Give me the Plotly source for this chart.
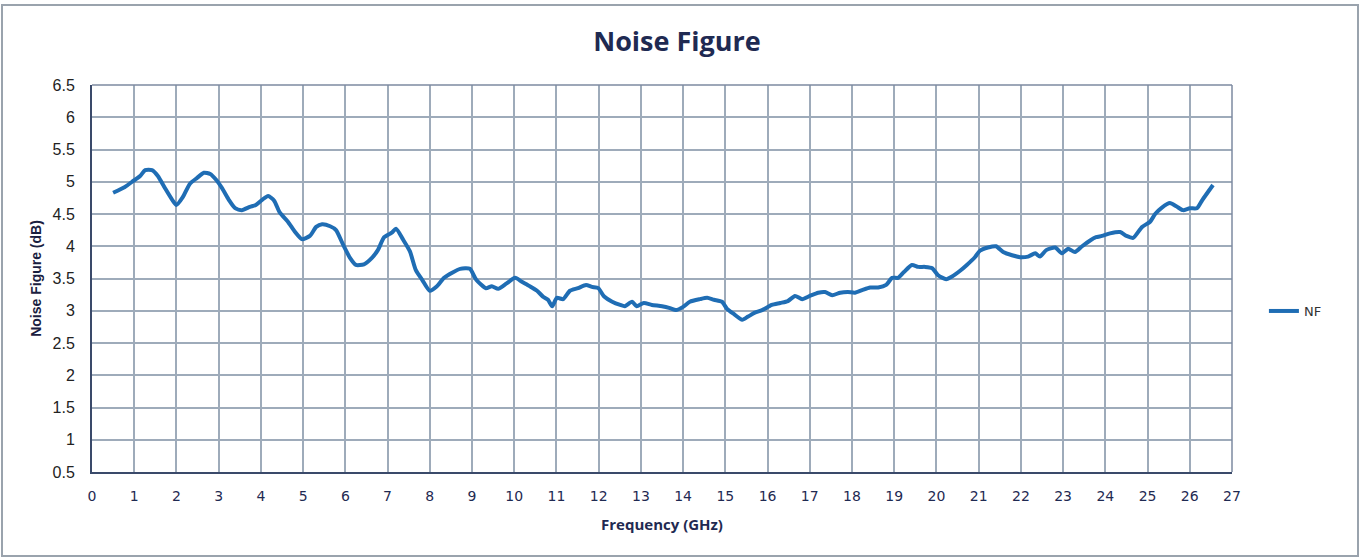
import plotly.graph_objects as go

freq_ghz = [0.5, 0.78, 0.95, 1.14, 1.26, 1.42, 1.56, 1.73, 1.9, 2.0, 2.15, 2.32, 2.49, 2.65, 2.8, 2.94,
            3.08, 3.24, 3.39, 3.55, 3.74, 3.88, 4.03, 4.17, 4.31, 4.45, 4.64, 4.81, 4.97, 5.16, 5.31,
            5.45, 5.64, 5.78, 5.95, 6.11, 6.25, 6.44, 6.63, 6.77, 6.92, 7.1, 7.2, 7.37, 7.53, 7.67,
            7.82, 8.0, 8.17, 8.34, 8.53, 8.72, 8.95, 9.1, 9.33, 9.47, 9.62, 9.81, 10.02, 10.18, 10.37,
            10.54, 10.68, 10.8, 10.9, 11.01, 11.16, 11.32, 11.51, 11.7, 11.84, 11.99, 12.13, 12.32,
            12.51, 12.62, 12.79, 12.9, 13.07, 13.26, 13.5, 13.69, 13.83, 14.0, 14.16, 14.4, 14.57,
            14.73, 14.92, 15.04, 15.2, 15.4, 15.54, 15.7, 15.87, 16.1, 16.3, 16.48, 16.65, 16.82,
            17.0, 17.2, 17.36, 17.53, 17.72, 17.9, 18.07, 18.24, 18.43, 18.62, 18.81, 18.95, 19.09,
            19.23, 19.42, 19.57, 19.73, 19.9, 20.04, 20.23, 20.37, 20.56, 20.72, 20.91, 21.03, 21.22,
            21.41, 21.58, 21.79, 21.98, 22.17, 22.34, 22.45, 22.6, 22.81, 22.97, 23.12, 23.28, 23.45,
            23.64, 23.78, 23.92, 24.11, 24.35, 24.5, 24.66, 24.87, 25.06, 25.18, 25.34, 25.53, 25.68,
            25.84, 26.0, 26.17, 26.3, 26.55]
nf_db = [4.83, 4.92, 5.0, 5.09, 5.18, 5.18, 5.09, 4.9, 4.72, 4.64, 4.76, 4.97, 5.06, 5.14, 5.12, 5.03,
         4.9, 4.72, 4.59, 4.56, 4.61, 4.64, 4.72, 4.78, 4.71, 4.52, 4.38, 4.22, 4.11, 4.16, 4.3,
         4.34, 4.31, 4.25, 4.02, 3.82, 3.71, 3.72, 3.82, 3.94, 4.14, 4.21, 4.27, 4.1, 3.92, 3.63,
         3.48, 3.31, 3.38, 3.51, 3.59, 3.65, 3.65, 3.48, 3.35, 3.38, 3.34, 3.42, 3.51, 3.45, 3.38,
         3.31, 3.22, 3.17, 3.07, 3.2, 3.18, 3.31, 3.35, 3.4, 3.37, 3.35, 3.22, 3.14,
         3.09, 3.07, 3.14, 3.07, 3.12, 3.09, 3.07, 3.04, 3.01, 3.06, 3.14, 3.18, 3.2,
         3.17, 3.14, 3.03, 2.95, 2.86, 2.91, 2.97, 3.01, 3.09, 3.12, 3.15, 3.23, 3.18,
         3.23, 3.28, 3.29, 3.24, 3.28, 3.29, 3.28, 3.32, 3.36, 3.36, 3.4, 3.51, 3.51,
         3.6, 3.71, 3.68, 3.68, 3.66, 3.55, 3.49, 3.53, 3.62, 3.71, 3.83, 3.93, 3.98,
         4.0, 3.91, 3.86, 3.83, 3.84, 3.89, 3.84, 3.94, 3.98, 3.89, 3.96, 3.91, 4.0,
         4.09, 4.14, 4.16, 4.2, 4.22, 4.16, 4.13, 4.3, 4.38, 4.5, 4.6, 4.67, 4.62,
         4.56, 4.59, 4.59, 4.72, 4.95]

x_ticks = list(range(0, 28))
y_ticks = [0.5, 1, 1.5, 2, 2.5, 3, 3.5, 4, 4.5, 5, 5.5, 6, 6.5]

navy = "#1f2a52"
grid = "#9eabba"

W, H = 1361, 559
L, R, T, B = 92, 129, 85, 87
PW, PH = W - L - R, H - T - B

fig = go.Figure()
fig.add_trace(go.Scatter(x=freq_ghz, y=nf_db, mode="lines", name="NF",
                         line=dict(color="#1f6db4", width=4, shape="spline", smoothing=0.6)))

fig.update_layout(
    width=W, height=H,
    paper_bgcolor="white", plot_bgcolor="white",
    margin=dict(l=L, r=R, t=T, b=B),
    title=dict(text="<b>Noise Figure</b>", x=677 / W, xanchor="center",
               y=1 - 42 / H, yanchor="middle",
               font=dict(family="Open Sans", size=27, color=navy)),
    font=dict(family="DejaVu Sans", color=navy),
    showlegend=True,
    legend=dict(x=1.028, y=0.416, xanchor="left", yanchor="middle",
                font=dict(family="DejaVu Sans", size=13, color="#333"),
                bgcolor="rgba(0,0,0,0)"),
    xaxis=dict(range=[0, 27], tickvals=x_ticks, ticktext=[str(v) for v in x_ticks],
               showgrid=True, gridcolor=grid, gridwidth=1.5,
               showline=True, linecolor="#3a4a6a", linewidth=2, mirror=False,
               zeroline=False, ticks="", ticklabelstandoff=10,
               tickfont=dict(family="DejaVu Sans", size=14, color=navy),
               title=dict(text="<b>Frequency (GHz)</b>", font=dict(family="Open Sans", size=15, color=navy),
                          standoff=17)),
    yaxis=dict(range=[0.5, 6.5], tickvals=y_ticks, ticktext=[f"{v:g}" for v in y_ticks],
               showgrid=True, gridcolor=grid, gridwidth=1.5,
               showline=True, linecolor="#3a4a6a", linewidth=2,
               zeroline=False, ticks="", ticklabelstandoff=12,
               tickfont=dict(family="Liberation Sans", size=16, color="#222"),
               title=dict(text="<b>Noise Figure (dB)</b>", font=dict(family="Liberation Sans", size=14, color="#1a2040"),
                          standoff=8)),
    shapes=[
        dict(type="line", xref="paper", yref="paper", x0=1, x1=1, y0=0, y1=1,
             line=dict(color="#7d8aa0", width=1.5)),
        dict(type="line", xref="paper", yref="paper", x0=0, x1=1, y0=1, y1=1,
             line=dict(color="#7d8aa0", width=1.5)),
        dict(type="rect", xref="paper", yref="paper",
             x0=(2 - L) / PW, x1=(1358 - L) / PW,
             y0=(PH + T - 556) / PH, y1=(PH + T - 5) / PH,
             line=dict(color="#9aa3ad", width=2)),
    ],
)

fig.write_html("out.html", config={"displayModeBar": False},
               post_script="document.body.style.margin='0';")
